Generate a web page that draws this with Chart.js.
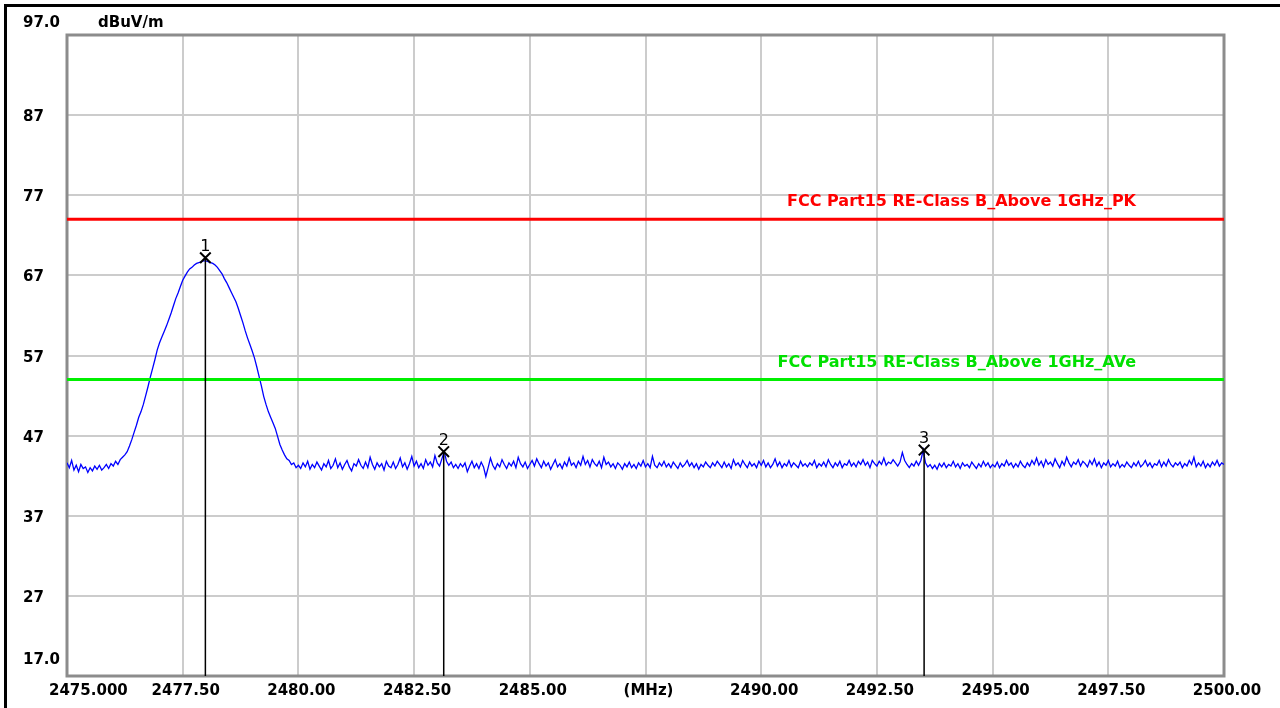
<!DOCTYPE html>
<html>
<head>
<meta charset="utf-8">
<title>Band edge scan</title>
<script src="https://cdn.jsdelivr.net/npm/chart.js@4.4.1/dist/chart.umd.min.js"></script>
<style>
  html, body { margin: 0; padding: 0; background: #fff; }
  canvas { display: block; }
</style>
</head>
<body>
<canvas id="scan" width="1280" height="708"></canvas>
<script>
// sweep: 2475 - 2500 MHz, one reading every 0.05 MHz
const sweepStart = 2475;
const sweepStep = 0.05;

const traceLevels = [
  43.6, 43.0, 43.9, 42.7, 43.3, 42.5, 43.4, 42.9, 43.1, 42.4, 43.0, 42.6, 43.2, 42.8, 43.3, 42.7, 43.0, 43.4, 42.9, 43.5,
  43.2, 43.8, 43.4, 44.0, 44.3, 44.6, 45.0, 45.7, 46.5, 47.4, 48.3, 49.3, 50.0, 50.9, 52.0, 53.1, 54.3, 55.4, 56.5, 57.7,
  58.6, 59.3, 60.0, 60.7, 61.5, 62.3, 63.2, 64.1, 64.8, 65.6, 66.4, 66.9, 67.4, 67.8, 68.0, 68.3, 68.5, 68.6, 68.7, 68.8,
  68.8, 68.7, 68.6, 68.5, 68.3, 68.0, 67.6, 67.2, 66.6, 66.1, 65.5, 64.9, 64.3, 63.7, 62.9, 62.0, 61.1, 60.1, 59.2, 58.4,
  57.6, 56.7, 55.6, 54.4, 53.2, 51.9, 50.9, 50.0, 49.3, 48.6, 47.9, 46.9, 45.9, 45.2, 44.6, 44.1, 43.9, 43.4, 43.6, 43.0,
  43.3, 42.9, 43.6, 43.1, 43.8, 42.8, 43.4, 43.0, 43.7, 43.2, 42.7, 43.5, 43.1, 43.9, 42.9, 43.3, 44.1, 43.0, 43.6, 42.8,
  43.4, 43.9, 43.1, 42.6, 43.5, 43.2, 44.0, 43.3, 42.9, 43.7, 43.0, 44.3, 43.4, 42.8, 43.6, 43.1, 43.5, 42.7, 43.8, 43.2,
  43.0, 43.7, 42.9, 43.4, 44.2, 43.1, 43.6, 42.8, 43.5, 44.4, 43.2, 43.8, 43.0, 43.5, 42.9, 44.0, 43.3, 43.7, 43.1, 44.5,
  43.6, 43.2, 44.1, 45.0, 43.8, 43.3, 43.7, 43.0, 43.4, 42.9, 43.5, 43.1, 43.6, 42.5, 43.2, 43.8, 43.0, 43.5, 42.9, 43.7,
  43.1, 41.9, 43.0, 44.2, 43.3, 42.8, 43.5, 43.1, 44.0, 43.4, 42.9, 43.6, 43.2, 43.8, 43.0, 44.3, 43.5, 43.1, 43.7, 42.9,
  43.4, 43.9, 43.2, 44.1, 43.5, 43.0, 43.8, 43.2, 43.6, 42.8, 43.4, 44.0, 43.1, 43.5, 42.9, 43.7, 43.2, 44.2, 43.3, 43.6,
  43.0, 43.8, 43.3, 44.4, 43.4, 43.9, 43.1, 44.0, 43.5, 43.2, 43.8, 43.0, 44.3, 43.4, 43.7, 43.1, 43.5, 42.9, 43.6, 43.3,
  42.8, 43.5, 43.1, 43.7, 43.0, 43.4, 42.9, 43.6, 43.2, 43.9, 43.1, 43.5, 43.0, 44.4, 43.3, 43.0, 43.6, 43.2, 43.8, 43.1,
  43.5, 43.0, 43.7, 43.3, 42.9, 43.6, 43.1, 43.4, 43.9, 43.2, 43.6, 43.0, 43.5, 42.8, 43.4, 43.1, 43.7, 43.3, 43.0, 43.6,
  43.2, 43.8, 43.4, 43.0, 43.7, 43.1, 43.5, 42.9, 44.0, 43.3, 43.6, 43.1, 43.9, 43.4, 43.0, 43.7, 43.2, 43.5, 43.0, 43.8,
  43.3, 43.9, 43.1, 43.6, 43.0, 43.4, 44.1, 43.2, 43.7, 43.0, 43.5, 43.2, 43.9, 43.1, 43.6, 43.3, 43.0, 43.8, 43.2, 43.5,
  43.1, 43.6, 43.3, 43.9, 43.0, 43.5, 43.2, 43.7, 43.1, 44.0, 43.4, 43.0, 43.6, 43.2, 43.8, 43.0, 43.5, 43.3, 43.9, 43.2,
  43.6, 43.1, 43.8, 43.4, 44.0, 43.3, 43.7, 43.0, 43.9, 43.5, 43.2, 43.8, 43.4, 44.2, 43.3, 43.7, 43.5, 44.0, 43.6, 43.2,
  43.7, 44.9, 43.9, 43.4, 43.0, 43.5, 43.2, 43.8, 43.3, 43.9, 45.2, 43.6, 43.1, 43.4, 42.9, 43.3, 42.8, 43.5, 43.1, 43.6,
  43.0, 43.4, 43.2, 43.8, 43.1, 43.5, 42.9, 43.6, 43.2, 43.4, 43.0, 43.7, 43.3, 42.9, 43.5, 43.1, 43.8, 43.2, 43.6, 43.0,
  43.4, 43.1, 43.7, 43.0, 43.5, 43.2, 43.9, 43.3, 43.6, 43.0, 43.5, 43.1, 43.8, 43.3, 43.0, 43.6, 43.2, 43.9, 43.4, 44.2,
  43.3, 43.8, 43.1, 44.0, 43.4, 43.7, 43.2, 44.1, 43.5, 43.0, 43.8, 43.3, 44.3, 43.6, 43.1, 43.7, 43.4, 44.0, 43.2, 43.8,
  43.5, 43.1, 43.9, 43.4, 44.1, 43.2, 43.7, 43.0, 43.6, 43.3, 43.9, 43.1, 43.5, 43.2, 43.8, 43.0, 43.4, 43.1, 43.7, 43.3,
  43.0, 43.6, 43.2, 43.8, 43.1, 43.4, 43.9, 43.2, 43.6, 43.0, 43.5, 43.3, 43.9, 43.1, 43.7, 43.2, 44.0, 43.4, 43.1, 43.6,
  43.3, 43.7, 43.0, 43.5, 43.2, 43.9, 43.4, 44.3, 43.1, 43.6, 43.2, 43.8, 43.0, 43.5, 43.1, 43.7, 43.3, 43.9, 43.2, 43.6,
  43.4
];

// limit lines
const limitPK = 74;
const limitAV = 54;
const limitPKLabel = 'FCC Part15 RE-Class B_Above 1GHz_PK';
const limitAVLabel = 'FCC Part15 RE-Class B_Above 1GHz_AVe';

// markers
const markerNames = ['1', '2', '3'];
const markerFreqs = [2477.99, 2483.14, 2493.52];
const markerLevels = [69.2, 45.0, 45.2];

// axes
const freqMin = 2475, freqMax = 2500, freqStep = 2.5;
const levelMin = 17, levelMax = 97, levelStep = 10;
const xTickLabels = ['2475.000', '2477.50', '2480.00', '2482.50', '2485.00', '(MHz)', '2490.00', '2492.50', '2495.00', '2497.50', '2500.00'];
const yTickLabels = ['17.0', '27', '37', '47', '57', '67', '77', '87', '97.0'];
const unitLabel = 'dBuV/m';

const traceData = traceLevels.map((v, i) => ({ x: +(sweepStart + i * sweepStep).toFixed(2), y: v }));

const labelFont = 'bold 15px "DejaVu Sans"';

const datasets = [
  {
    label: 'markers',
    data: markerFreqs.map((f, i) => ({ x: f, y: markerLevels[i] })),
    showLine: false,
    pointStyle: 'crossRot',
    pointRadius: 7.5,
    borderColor: '#000',
    borderWidth: 2,
    order: 0
  }
];
markerFreqs.forEach((f, i) => {
  datasets.push({
    label: 'stem ' + markerNames[i],
    data: [{ x: f, y: markerLevels[i] }, { x: f, y: levelMin }],
    borderColor: '#000',
    borderWidth: 1.5,
    pointRadius: 0,
    order: 1
  });
});
datasets.push({
  label: 'PK',
  data: [{ x: freqMin, y: limitPK }, { x: freqMax, y: limitPK }],
  borderColor: '#ff0000',
  borderWidth: 3,
  pointRadius: 0,
  order: 2
});
datasets.push({
  label: 'AV',
  data: [{ x: freqMin, y: limitAV }, { x: freqMax, y: limitAV }],
  borderColor: '#00f000',
  borderWidth: 3,
  pointRadius: 0,
  order: 2
});
datasets.push({
  label: 'trace',
  data: traceData,
  borderColor: '#0000ff',
  borderWidth: 1.3,
  pointRadius: 0,
  tension: 0,
  order: 3
});

const frame = {
  id: 'frame',
  beforeDraw(chart) {
    const ctx = chart.ctx;
    ctx.save();
    ctx.fillStyle = '#fff';
    ctx.fillRect(0, 0, chart.width, chart.height);
    ctx.restore();
  },
  beforeDatasetsDraw(chart) {
    const { ctx, chartArea: a } = chart;
    ctx.save();
    ctx.strokeStyle = '#8c8c8c';
    ctx.lineWidth = 3;
    ctx.strokeRect(a.left, a.top, a.right - a.left, a.bottom - a.top);
    ctx.restore();
  },
  afterDraw(chart) {
    const { ctx, chartArea: a, scales: { x, y } } = chart;
    ctx.save();

    // window edge
    ctx.fillStyle = '#000';
    ctx.fillRect(4, 4, chart.width - 4, 3);
    ctx.fillRect(4, 4, 3, chart.height - 4);

    ctx.font = labelFont;
    ctx.textBaseline = 'alphabetic';

    // level labels
    ctx.textAlign = 'left';
    y.ticks.forEach((t, i) => {
      const py = y.getPixelForValue(t.value);
      let by = py + 6;
      if (i === 0) by = py - 12;
      if (i === y.ticks.length - 1) by = py - 8;
      ctx.fillText(yTickLabels[i], 23, by);
    });
    ctx.fillText(unitLabel, 98, y.getPixelForValue(levelMax) - 8);

    // frequency labels
    x.ticks.forEach((t, i) => {
      const px = x.getPixelForValue(t.value);
      if (i === 0) {
        ctx.textAlign = 'left';
        ctx.fillText(xTickLabels[i], px - 18, a.bottom + 19);
      } else {
        ctx.textAlign = 'center';
        ctx.fillText(xTickLabels[i], px + 3, a.bottom + 19);
      }
    });

    // limit names
    ctx.font = 'bold 16px "DejaVu Sans"';
    ctx.textAlign = 'right';
    ctx.fillStyle = '#ff0000';
    ctx.fillText(limitPKLabel, a.right - 88, y.getPixelForValue(limitPK) - 13);
    ctx.fillStyle = '#00e000';
    ctx.fillText(limitAVLabel, a.right - 88, y.getPixelForValue(limitAV) - 13);

    // marker numbers
    ctx.font = '16px "DejaVu Sans"';
    ctx.textAlign = 'center';
    ctx.fillStyle = '#000';
    markerFreqs.forEach((f, i) => {
      ctx.fillText(markerNames[i], x.getPixelForValue(f), y.getPixelForValue(markerLevels[i]) - 7);
    });

    ctx.restore();
  }
};

new Chart(document.getElementById('scan'), {
  type: 'line',
  data: { datasets },
  options: {
    responsive: false,
    animation: false,
    devicePixelRatio: 1,
    layout: { padding: { top: 35, right: 56, bottom: 0, left: 0 } },
    plugins: { legend: { display: false }, tooltip: { enabled: false } },
    scales: {
      x: {
        type: 'linear',
        min: freqMin,
        max: freqMax,
        ticks: { display: false, stepSize: freqStep },
        grid: { color: '#cccccc', lineWidth: 2, drawTicks: false },
        border: { display: false },
        afterFit(s) { s.height = 32; }
      },
      y: {
        type: 'linear',
        min: levelMin,
        max: levelMax,
        ticks: { display: false, stepSize: levelStep },
        grid: { color: '#cccccc', lineWidth: 2, drawTicks: false },
        border: { display: false },
        afterFit(s) { s.width = 67; }
      }
    }
  },
  plugins: [frame]
});
</script>
</body>
</html>
